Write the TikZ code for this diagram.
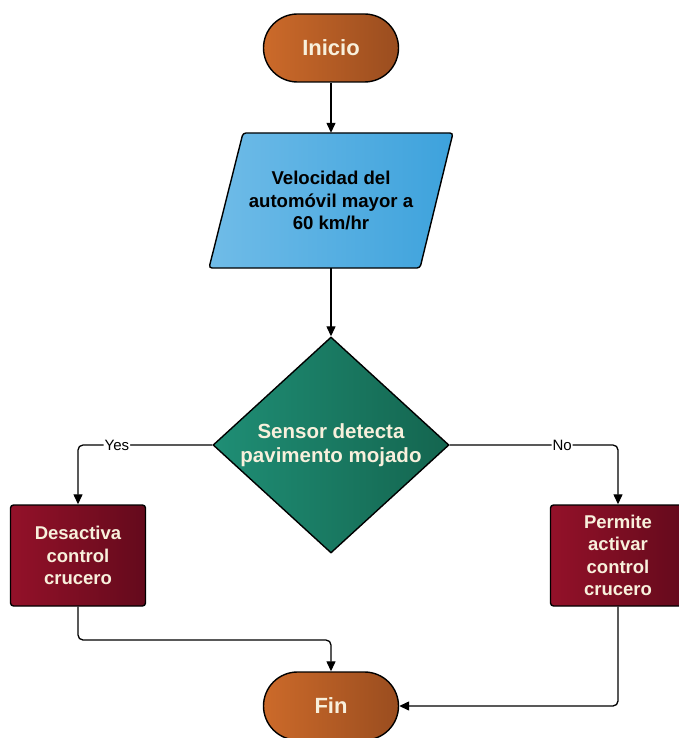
\documentclass[tikz,border=0pt]{standalone}
\usepackage{fontspec}
\setmainfont{Liberation Sans}
\usetikzlibrary{shapes.geometric,arrows.meta}
\definecolor{orA}{HTML}{CC6A2A}
\definecolor{orB}{HTML}{9A4D1F}
\definecolor{blA}{HTML}{70BCE8}
\definecolor{blB}{HTML}{3DA2DC}
\definecolor{tlA}{HTML}{1F8E75}
\definecolor{tlB}{HTML}{14654F}
\definecolor{rdA}{HTML}{931129}
\definecolor{rdB}{HTML}{640A1C}
\definecolor{cream}{HTML}{F8F0DC}
\tikzset{
  term/.style={draw=black, line width=1.4pt, rounded corners=34pt, minimum width=135pt, minimum height=68pt,
     left color=orA, right color=orB, text=cream, font=\bfseries\fontsize{22}{25}\selectfont},
  proc/.style={draw=black, line width=1.4pt, rounded corners=3pt, minimum width=135pt, minimum height=101pt,
     left color=rdA, right color=rdB, text=cream, align=center, font=\bfseries\fontsize{18.5}{22.3}\selectfont},
  dec/.style={draw=black, line width=1.4pt, diamond, minimum width=236pt, minimum height=216pt, inner sep=0pt,
     left color=tlA, right color=tlB},
  dectext/.style={text=cream, align=center, font=\bfseries\fontsize{20.5}{24}\selectfont},
  conn/.style={draw=black, line width=1.3pt, -{Triangle[length=10pt,width=9pt]}, rounded corners=5pt},
  lbl/.style={fill=white, inner sep=1pt, font=\fontsize{15}{17}\selectfont}
}
\begin{document}
\begin{tikzpicture}[x=1pt,y=-1pt]
\useasboundingbox (0,0) rectangle (678,738);
\node[term] (inicio) at (331,48) {Inicio};
% parallelogram
\draw[line width=1.4pt, rounded corners=3pt, left color=blA, right color=blB]
  (243,133) -- (453,133) -- (420,268) -- (209,268) -- cycle;
\node[minimum height=135pt, minimum width=10pt, inner sep=0pt, align=center,
  font=\bfseries\fontsize{18.6}{22.7}\selectfont] (velo) at (331,200.5) {Velocidad del\\automóvil mayor a\\60 km/hr};
\node[dec] (sensor) at (331,445) {};
\node[dectext] (sensortext) at (sensor.center) {Sensor detecta\\pavimento mojado};
\node[proc] (desac) at (78,555.5) {Desactiva\\control\\crucero};
\node[proc] (perm) at (618,555.5) {Permite\\activar\\control\\crucero};
\node[term] (fin) at (331,706) {Fin};
\coordinate (c1) at (78,640);
\draw[conn] (inicio.south) -- (velo.north);
\draw[conn] (velo.south) -- (sensor.north);
\draw[conn] (sensor.west) -| node[lbl, pos=0.355] {Yes} (desac.north);
\draw[conn] (sensor.east) -| node[lbl, pos=0.334] {No} (perm.north);
\draw[conn] (desac.south) -- (c1) -| (fin.north);
\draw[conn] (perm.south) |- (fin.east);
\end{tikzpicture}
\end{document}
